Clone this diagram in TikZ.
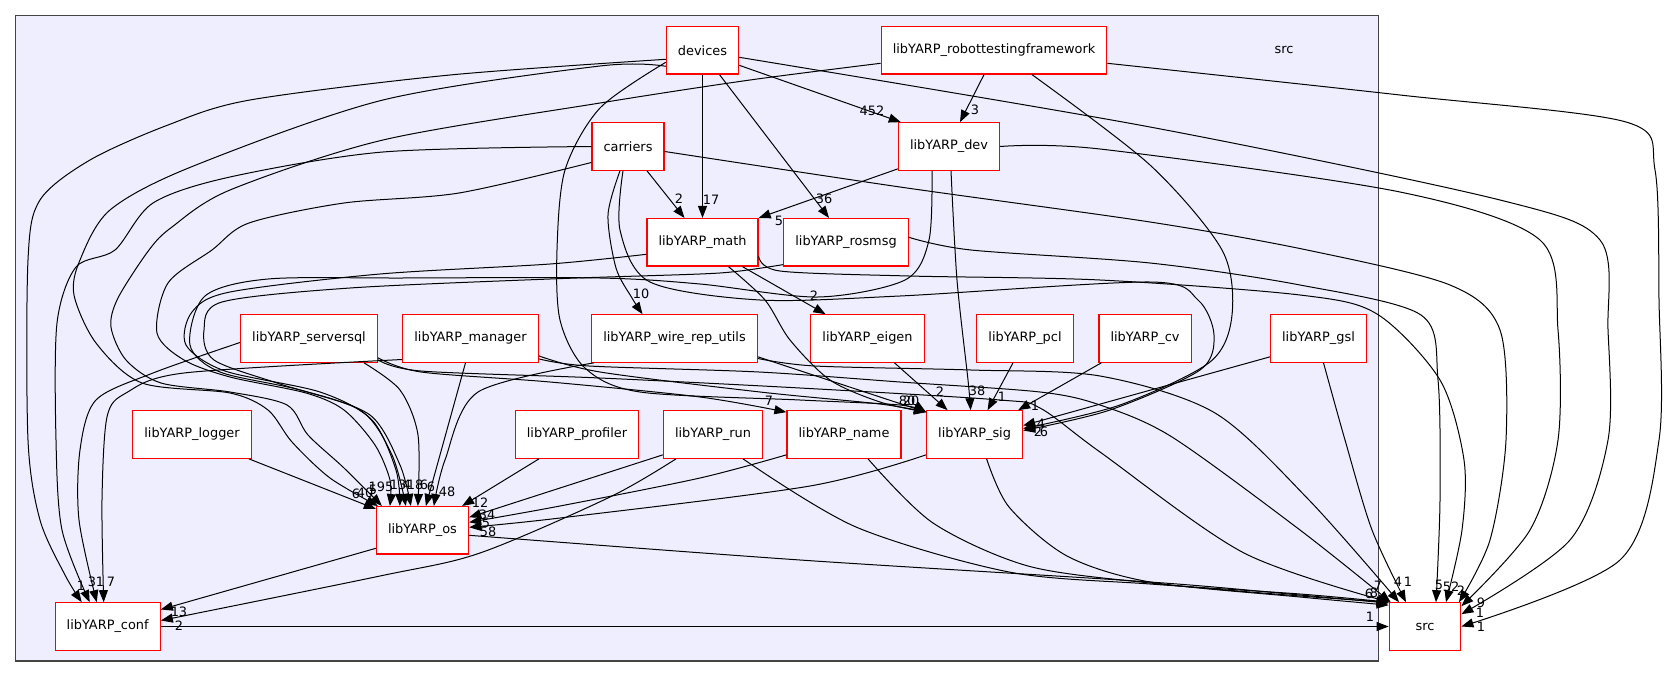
\documentclass[tikz,border=0pt]{standalone}
\usepackage{fontspec}
\setmainfont{DejaVu Sans}
\usepackage{tikz}
\usetikzlibrary{arrows.meta}
\definecolor{clusterfill}{HTML}{EEEEFF}
\definecolor{clusterline}{HTML}{444444}

\begin{document}
\begin{tikzpicture}[
    x=1pt, y=-1pt,
    dirbox/.style={rectangle, draw=red, fill=white, line width=1.2pt, minimum height=47.5pt, inner xsep=11.6pt, font=\fontsize{12.9}{15}\selectfont},
    frame/.style={draw=clusterline, fill=clusterfill, line width=1.2pt},
    dep/.style={-{Triangle[length=12pt,width=9pt]}, line width=1pt, black},
    cnt/.style={inner sep=0pt, font=\fontsize{12.9}{15}\selectfont}
]
\useasboundingbox (0,0) rectangle (1665,677);

% cluster
\draw[frame] (15.3,15.7) rectangle (1378.6,661);
\node[cnt] (srclabel) at (1284,50) {src};

% directories
\node[dirbox] (devices) at (702.5,50.3) {devices};
\node[dirbox] (rtf) at (994,50.3) {libYARP\_robottestingframework};
\node[dirbox] (carriers) at (628,146.5) {carriers};
\node[dirbox] (ydev) at (949,146.5) {libYARP\_dev};
\node[dirbox] (ymath) at (702.5,242.3) {libYARP\_math};
\node[dirbox] (rosmsg) at (846,242.3) {libYARP\_rosmsg};
\node[dirbox] (serversql) at (309,338.5) {libYARP\_serversql};
\node[dirbox] (manager) at (470.5,338.5) {libYARP\_manager};
\node[dirbox] (wire) at (674.5,338.5) {libYARP\_wire\_rep\_utils};
\node[dirbox] (eigen) at (867.5,338.5) {libYARP\_eigen};
\node[dirbox] (pcl) at (1025,338.5) {libYARP\_pcl};
\node[dirbox] (cv) at (1145,338.5) {libYARP\_cv};
\node[dirbox] (gsl) at (1318.5,338.5) {libYARP\_gsl};
\node[dirbox] (logger) at (192,434.5) {libYARP\_logger};
\node[dirbox] (profiler) at (577,434.5) {libYARP\_profiler};
\node[dirbox] (run) at (713,434.5) {libYARP\_run};
\node[dirbox] (yname) at (844,434.5) {libYARP\_name};
\node[dirbox] (sig) at (974.6,434.5) {libYARP\_sig};
\node[dirbox] (os) at (422.5,530.3) {libYARP\_os};
\node[dirbox] (conf) at (107.7,626.5) {libYARP\_conf};
\node[dirbox, minimum width=71.6pt] (srcdir) at (1425,626.5) {src};

% upper part
\draw[dep] ([yshift=-15pt]devices.east) -- ([xshift=3pt]ydev.north west);
\draw[dep] ([xshift=-10pt]rtf.south) -- ([xshift=11pt]ydev.north);
\draw[dep] (devices.south) -- (ymath.north);
\draw[dep] ([xshift=19pt]carriers.south) -- ([xshift=-18pt]ymath.north);
\draw[dep] ([xshift=17pt]devices.south) -- ([xshift=-17pt]rosmsg.north);
\draw[dep] ([yshift=2pt]ydev.south west) -- (ymath.north east);
\draw[dep] plot[smooth] coordinates {([xshift=-8pt]carriers.south) (608,215) (616,268) (632,298) ([xshift=-32pt]wire.north)};
\draw[dep] ([xshift=40pt]ymath.south) -- ([xshift=-42pt]eigen.north);

% into libYARP_sig
\draw[dep] plot[smooth] coordinates {([xshift=2pt]ydev.south) (957,280) (968,380) ([xshift=-4pt]sig.north)};
\draw[dep] ([xshift=27pt]eigen.south) -- ([xshift=-27pt]sig.north);
\draw[dep] ([xshift=-12pt]pcl.south) -- ([xshift=13pt]sig.north);
\draw[dep] ([xshift=3pt]cv.south west) -- ([xshift=-5pt]sig.north east);
\draw[dep] ([yshift=6pt]gsl.south west) -- ([yshift=9pt]sig.east);
\draw[dep] plot[smooth] coordinates {([xshift=38pt]rtf.south) (1150,165) (1222,250) (1232,315) (1210,362) (1120,405) ([yshift=6pt]sig.east)};
\draw[dep] plot[smooth] coordinates {([xshift=-5pt]carriers.south) (620,230) (650,282) (760,300) (900,296) (1150,282) (1198,300) (1214,335) (1200,370) (1110,410) ([yshift=4pt]sig.east)};
\draw[dep] plot[smooth] coordinates {([yshift=-12pt]devices.west) (600,108) (565,170) (557,250) (560,320) (585,368) (640,392) (800,400) (900,405) ([yshift=-2pt]sig.north west)};
\draw[dep] plot[smooth] coordinates {([xshift=26pt]ymath.south) (765,300) (790,340) (830,380) (880,402) ([yshift=-2pt]sig.north west)};
\draw[dep] ([yshift=6pt]wire.south east) -- ([yshift=-2pt]sig.north west);
\draw[dep] plot[smooth] coordinates {([yshift=7pt]manager.south east) (600,372) (760,392) (880,404) ([yshift=-2pt]sig.north west)};
\draw[dep] plot[smooth] coordinates {([yshift=5pt]serversql.south east) (421,372) (550,382) (700,397) ([yshift=-2pt]yname.north west)};

% into libYARP_os
\draw[dep] ([xshift=-3pt]logger.south east) -- ([yshift=-3pt]os.north west);
\draw[dep] plot[smooth] coordinates {([yshift=-16pt]devices.west) (600,66) (383,100) (191,167) (110,210) (80,260) (74,295) (96,343) (142,383) (230,393) (268,410) (292,442) (330,478) ([xshift=2pt]os.north west)};
\draw[dep] plot[smooth] coordinates {([yshift=-13pt]rtf.west) (750,80) (600,103) (383,140) (230,190) (172,227) (149,250) (118,298) (111,327) (126,360) (161,383) (230,392) (287,405) (308,435) (344,468) ([xshift=6pt]os.north west)};
\draw[dep] plot[smooth] coordinates {([yshift=-16pt]carriers.west) (459,193) (344,203) (249,223) (212,250) (168,283) (157,333) (184,360) (230,377) (306,393) (344,410) (375,445) (390,480) ([xshift=14pt]os.north west)};
\draw[dep] plot[smooth] coordinates {([yshift=-12pt]ymath.west) (550,264) (380,274) (230,292) (192,312) (186,345) (225,371) (320,392) (372,420) (396,470) ([xshift=24pt]os.north west)};
\draw[dep] plot[smooth] coordinates {([yshift=2pt]rosmsg.south west) (740,271) (700,274) (550,279) (350,288) (222,302) (204,330) (214,360) (280,384) (360,410) (392,455) ([xshift=30pt]os.north west)};
\draw[dep] plot[smooth] coordinates {([xshift=-17pt]ydev.south) (929,240) (905,280) (818,297) (700,284) (600,278) (402,278) (268,279) (205,296) (190,345) (220,372) (300,390) (370,415) (400,465) ([xshift=35pt]os.north west)};
\draw[dep] plot[smooth] coordinates {([xshift=55pt]serversql.south) (400,390) (418,435) ([xshift=42pt]os.north west)};
\draw[dep] ([xshift=-5pt]manager.south) -- ([xshift=50pt]os.north west);
\draw[dep] plot[smooth] coordinates {([xshift=3pt]wire.south west) (478,392) (445,460) ([xshift=58pt]os.north west)};
\draw[dep] ([xshift=-38pt]profiler.south) -- ([xshift=-7pt]os.north east);
\draw[dep] ([yshift=4pt]run.south west) -- ([yshift=13pt]os.east);
\draw[dep] plot[smooth] coordinates {([yshift=4pt]yname.south west) (700,478) (560,506) ([yshift=8pt]os.east)};
\draw[dep] plot[smooth] coordinates {([yshift=4pt]sig.south west) (810,486) (560,518) ([yshift=3pt]os.east)};

% into libYARP_conf
\draw[dep] plot[smooth] coordinates {([yshift=-9pt]devices.west) (450,75) (250,100) (168,125) (90,160) (40,200) (28,260) (28,440) (40,520) (65,575) ([xshift=-26pt]conf.north)};
\draw[dep] plot[smooth] coordinates {(carriers.west) (383,152) (230,177) (153,203) (115,250) (76,267) (57,323) (56,440) (62,530) ([xshift=-18pt]conf.north)};
\draw[dep] plot[smooth] coordinates {([yshift=-4pt]serversql.west) (153,373) (96,400) (80,450) (79,520) ([xshift=-11pt]conf.north)};
\draw[dep] plot[smooth] coordinates {([yshift=-21pt]manager.west) (184,373) (126,393) (107,417) (102,500) ([xshift=-4pt]conf.north)};
\draw[dep] ([yshift=-18pt]os.west) -- ([yshift=17pt]conf.east);
\draw[dep] plot[smooth] coordinates {([xshift=-37pt]run.south) (610,497) (480,553) (380,576) ([yshift=6pt]conf.east)};

% into src
\draw[dep] (conf.east) -- (srcdir.west);
\draw[dep] plot[smooth] coordinates {([yshift=-5pt]os.east) (800,560) (1150,582) (1300,595) ([yshift=-1pt]srcdir.north west)};
\draw[dep] plot[smooth] coordinates {([xshift=30pt]run.south) (856,527) (1009,572) (1150,584) (1300,594) (srcdir.north west)};
\draw[dep] plot[smooth] coordinates {([xshift=24pt]yname.south) (933,523) (1028,566) (1150,583) (1300,596) (srcdir.north west)};
\draw[dep] plot[smooth] coordinates {([xshift=12pt]sig.south) (1009,507) (1067,556) (1150,582) (1300,597) ([yshift=-3pt]srcdir.north west)};
\draw[dep] plot[smooth] coordinates {([yshift=-20pt]wire.east) (815,366) (971,370) (1100,376) (1215,413) (1309,500) ([xshift=-26pt]srcdir.north)};
\draw[dep] plot[smooth] coordinates {([yshift=4pt]manager.south east) (589,366) (759,372) (900,382) (1040,392) (1100,405) (1172,437) (1300,530) ([xshift=2pt]srcdir.north west)};
\draw[dep] plot[smooth] coordinates {([yshift=3pt]serversql.south east) (421,371) (600,378) (800,388) (1000,400) (1040,408) (1100,452) (1244,553) ([xshift=1pt]srcdir.north west)};
\draw[dep] plot[smooth] coordinates {([xshift=5pt]gsl.south) (1345,440) (1372,530) ([xshift=-19pt]srcdir.north)};
\draw[dep] plot[smooth] coordinates {([yshift=5pt]rosmsg.east) (971,250) (1150,263) (1300,285) (1421,315) (1438,380) (1440,500) ([xshift=11pt]srcdir.north)};
\draw[dep] plot[smooth] coordinates {([yshift=-14pt]ymath.east) (780,271) (909,276) (1100,280) (1300,295) (1377,314) (1440,380) (1464,460) (1462,530) ([xshift=21pt]srcdir.north)};
\draw[dep] plot[smooth] coordinates {([yshift=-5pt]carriers.east) (900,187) (1150,222) (1307,250) (1450,285) (1500,330) (1506,440) (1490,540) ([xshift=34pt]srcdir.north)};
\draw[dep] plot[smooth] coordinates {(ydev.east) (1100,149) (1400,192) (1540,240) (1558,330) (1558,440) (1530,530) ([yshift=-4pt]srcdir.north east)};
\draw[dep] plot[smooth] coordinates {([yshift=-7pt]devices.east) (1150,127) (1500,200) (1600,240) (1608,330) (1608,440) (1570,540) ([yshift=-12pt]srcdir.north east)};
\draw[dep] plot[smooth] coordinates {([yshift=-13pt]rtf.east) (1400,95) (1626,122) (1655,170) (1659,300) (1659,440) (1620,560) (srcdir.east)};

% edge counts
\node[cnt] (lab1) at (872,111) {452};
\node[cnt] (lab2) at (975,110) {3};
\node[cnt] (lab3) at (711,200) {17};
\node[cnt] (lab4) at (679,199) {2};
\node[cnt] (lab5) at (824,199) {36};
\node[cnt] (lab6) at (779,221) {5};
\node[cnt] (lab7) at (641,294) {10};
\node[cnt] (lab8) at (814,296) {2};
\node[cnt] (lab9) at (977,391) {38};
\node[cnt] (lab10) at (940,392) {2};
\node[cnt] (lab11) at (1002,397) {1};
\node[cnt] (lab12) at (1035,406) {1};
\node[cnt] (lab13) at (1041,424) {4};
\node[cnt] (lab14) at (1038,432) {2};
\node[cnt] (lab15) at (1044,432) {6};
\node[cnt] (lab16) at (907,401) {80};
\node[cnt] (lab17) at (911,401) {20};
\node[cnt] (lab18) at (769,401) {7};
\node[cnt] (lab19) at (356,494) {6};
\node[cnt] (lab20) at (365,493) {40};
\node[cnt] (lab21) at (373,490) {5};
\node[cnt] (lab22) at (381,487) {195};
\node[cnt] (lab23) at (398,485) {13};
\node[cnt] (lab24) at (407,485) {4};
\node[cnt] (lab25) at (415,485) {18};
\node[cnt] (lab26) at (424,485) {6};
\node[cnt] (lab27) at (431,487) {6};
\node[cnt] (lab28) at (447,492) {48};
\node[cnt] (lab29) at (480,503) {12};
\node[cnt] (lab30) at (487,515) {34};
\node[cnt] (lab31) at (486,523) {5};
\node[cnt] (lab32) at (488,532) {58};
\node[cnt] (lab33) at (81,586) {1};
\node[cnt] (lab34) at (92,582) {3};
\node[cnt] (lab35) at (100,582) {1};
\node[cnt] (lab36) at (111,582) {7};
\node[cnt] (lab37) at (179,612) {13};
\node[cnt] (lab38) at (179,626) {2};
\node[cnt] (lab39) at (1369,594) {6};
\node[cnt] (lab40) at (1374,593) {8};
\node[cnt] (lab41) at (1378,586) {7};
\node[cnt] (lab42) at (1370,617) {1};
\node[cnt] (lab43) at (1398,582) {4};
\node[cnt] (lab44) at (1408,582) {1};
\node[cnt] (lab45) at (1439,585) {5};
\node[cnt] (lab46) at (1451,587) {52};
\node[cnt] (lab47) at (1461,591) {2};
\node[cnt] (lab48) at (1481,603) {9};
\node[cnt] (lab49) at (1480,613) {1};
\node[cnt] (lab50) at (1481,627) {1};

\end{tikzpicture}
\end{document}
